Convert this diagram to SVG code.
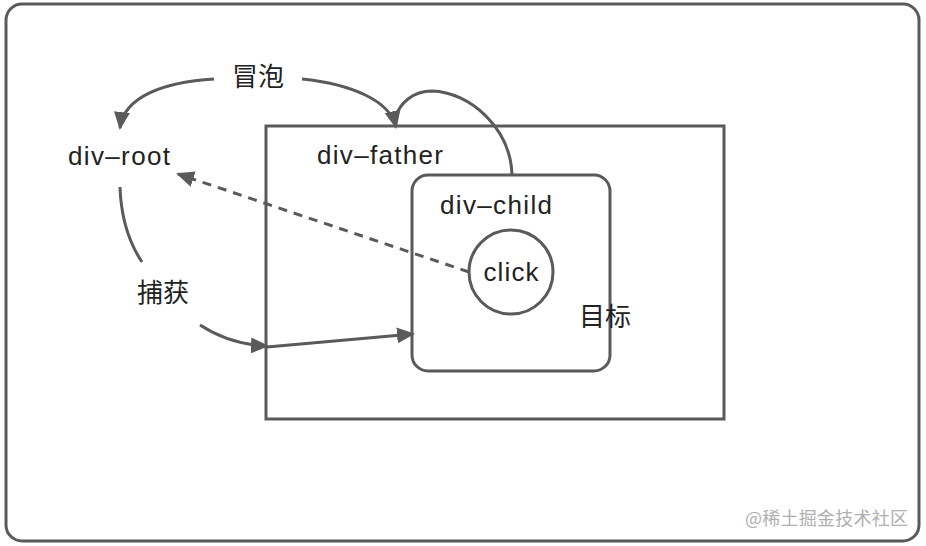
<svg xmlns="http://www.w3.org/2000/svg" width="926" height="546" viewBox="0 0 926 546">
<style>
.box{fill:none;stroke:#5a5a5a;stroke-width:3}
.lat{font-family:"Liberation Sans",Arial,sans-serif;font-size:26px;fill:#222}
.cjk{font-family:"Noto Sans CJK SC","Noto Sans",sans-serif;font-size:26px;fill:#222}
.wm{font-family:"Noto Sans CJK SC",sans-serif;font-size:18px;fill:#b0b0b0}
.con{fill:none;stroke:#5a5a5a;stroke-width:3}
.dash{stroke-dasharray:9 7}
</style>
<defs>
<marker id="ah" markerUnits="userSpaceOnUse" markerWidth="18" markerHeight="16" viewBox="0 0 18 16" refX="16" refY="8" orient="auto">
<path d="M0,0 L18,8 L0,16 Z" fill="#5a5a5a"/>
</marker>
</defs>
<rect x="6" y="4" width="913" height="537" rx="16" class="box"/>
<g id="div-father">
<rect x="266" y="126" width="458" height="293" class="box"/>
<text x="317" y="164" class="lat" textLength="126" lengthAdjust="spacing">div–father</text>
</g>
<g id="div-child">
<rect x="412" y="175" width="198" height="196" rx="16" class="box"/>
<text x="440" y="214" class="lat" textLength="112" lengthAdjust="spacing">div–child</text>
</g>
<g id="click">
<circle cx="511" cy="272" r="42" class="box"/>
<text x="511" y="281" class="lat" text-anchor="middle" textLength="55" lengthAdjust="spacing">click</text>
</g>
<g id="div-root">
<text x="68" y="165" class="lat" textLength="102" lengthAdjust="spacing">div–root</text>
</g>
<g id="label-target"><text x="579" y="326" class="cjk">目标</text></g>
<g id="label-bubble"><text x="232" y="86" class="cjk">冒泡</text></g>
<g id="label-capture"><text x="137" y="302" class="cjk">捕获</text></g>
<g id="connectors">
<path d="M214,79 C165,82 124,96 120,128" class="con" marker-end="url(#ah)"/>
<path d="M302,79 C350,84 390,100 396,127" class="con" marker-end="url(#ah)"/>
<path d="M512,174 C510,128 470,92 432,91 C412,91 400,104 396,116" class="con"/>
<path d="M120,187 C121,218 130,244 142,262" class="con"/>
<path d="M200,325 C220,338 240,345 267,346" class="con" marker-end="url(#ah)"/>
<path d="M267,347 L413,334" class="con" marker-end="url(#ah)"/>
<path d="M469,272 L178,174" class="con dash" marker-end="url(#ah)"/>
</g>
<text x="745" y="525" class="wm" textLength="163" lengthAdjust="spacing">@稀土掘金技术社区</text>
</svg>
